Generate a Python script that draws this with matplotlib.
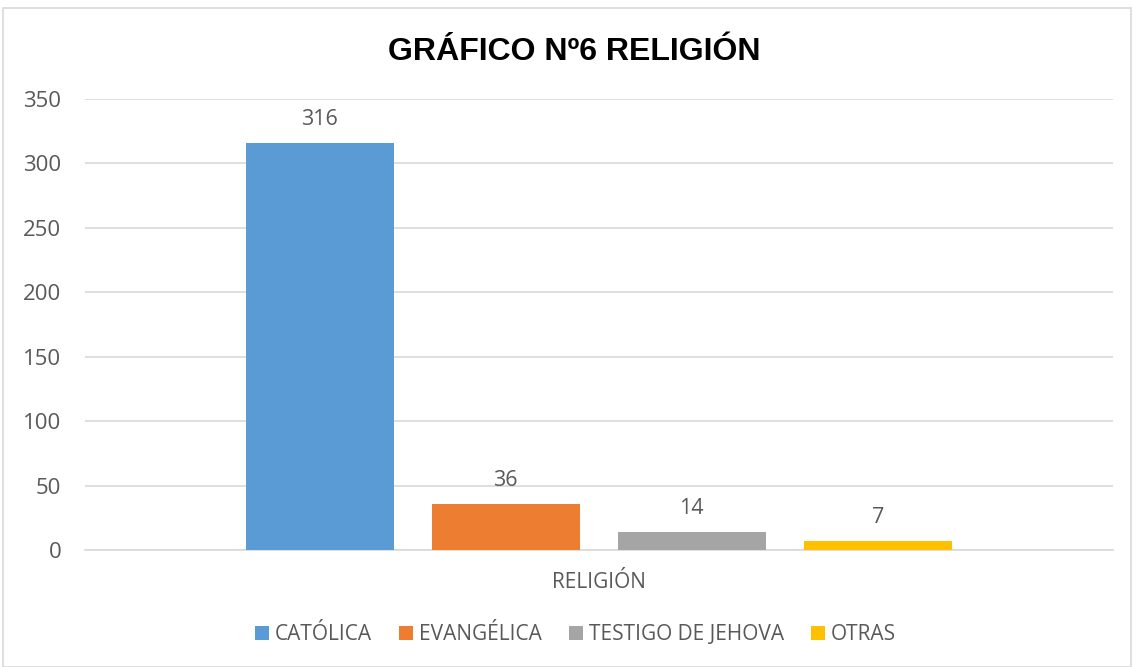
import matplotlib.pyplot as plt
from matplotlib.patches import Rectangle

# Data
categories = ['CATÓLICA', 'EVANGÉLICA', 'TESTIGO DE JEHOVA', 'OTRAS']
values = [316, 36, 14, 7]
colors = ['#5b9bd5', '#ed7d31', '#a5a5a5', '#ffc000']
group_label = 'RELIGIÓN'

text_color = '#595959'
plt.rcParams['font.family'] = ['Open Sans', 'DejaVu Sans']

fig = plt.figure(figsize=(11.33, 6.67), dpi=100)
ax = fig.add_axes([0.075, 0.1754, 0.907, 0.6762])

# outer chart border
fig.patches.append(Rectangle((0.003, 0.0), 0.995, 0.988, transform=fig.transFigure,
                             fill=False, edgecolor='#d9d9d9', linewidth=1.2))

step = 0.181
width = 0.144
for i, (cat, val, col) in enumerate(zip(categories, values, colors)):
    x = (i - 1.5) * step
    ax.bar(x, val, width=width, color=col, label=cat, zorder=3)
    ax.annotate(str(val), (x, val), xytext=(0, 17), textcoords='offset points',
                ha='center', va='center', fontsize=15.5, color=text_color)

ax.set_xlim(-0.5, 0.5)
ax.set_ylim(0, 350)
ax.set_yticks(range(0, 351, 50))
ax.set_xticks([0])
ax.set_xticklabels([group_label])
ax.tick_params(axis='x', length=0, pad=16, labelsize=15, colors=text_color)
ax.tick_params(axis='y', length=0, pad=17, labelsize=16, colors=text_color)
ax.grid(axis='y', color='#d9d9d9', linewidth=1.2, zorder=0)
for s in ['top', 'right', 'left']:
    ax.spines[s].set_visible(False)
ax.spines['bottom'].set_color('#d9d9d9')
ax.spines['bottom'].set_linewidth(1.2)

fig.text(0.507, 0.922, 'GRÁFICO Nº6 RELIGIÓN', ha='center', va='center',
         fontsize=23, fontweight='bold', family=['Liberation Sans', 'DejaVu Sans'])

leg = fig.legend(loc='center', bbox_to_anchor=(0.508, 0.048), ncol=4, frameon=False,
                 fontsize=15, handlelength=0.65, handleheight=0.65,
                 handletextpad=0.3, columnspacing=1.3)
for t in leg.get_texts():
    t.set_color(text_color)

fig.savefig('out.png', dpi=100)
